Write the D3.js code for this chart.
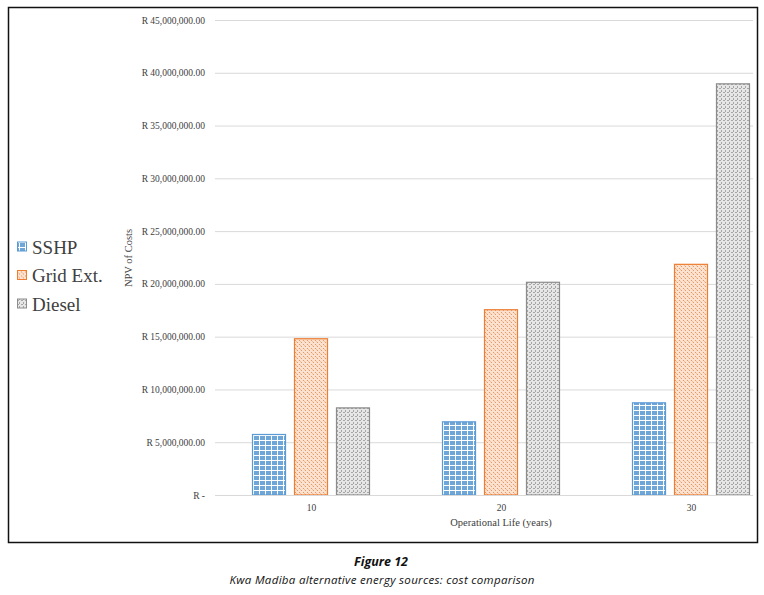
<!DOCTYPE html>
<html>
<head>
<meta charset="utf-8">
<script src="https://cdn.jsdelivr.net/npm/d3@7"></script>
<style>
  body { margin: 0; background: #fff; }
</style>
</head>
<body>
<svg id="chart" width="764" height="595"></svg>
<script>
// chart values
const years = ["10", "20", "30"]
const series = ["SSHP", "Grid Ext.", "Diesel"]
const sshp = [5780000, 6980000, 8780000]
const gridExt = [14850000, 17600000, 21900000]
const diesel = [8300000, 20200000, 39000000]
const yTicks = [0, 5e6, 10e6, 15e6, 20e6, 25e6, 30e6, 35e6, 40e6, 45e6]

const values = [sshp, gridExt, diesel]
const rows = years.map((y, i) => ({year: y, vals: series.map((s, j) => ({name: s, v: values[j][i]}))}))

const svg = d3.select("#chart")
const serif = "Liberation Serif, serif"
const colours = {"SSHP": "#5b9bd5", "Grid Ext.": "#ed7d31", "Diesel": "#8c8c8c"}
const pid = {"SSHP": "pSshp", "Grid Ext.": "pGrid", "Diesel": "pDiesel"}

// fill patterns
const defs = svg.append("defs")
const p1 = defs.append("pattern").attr("id", "pSshp").attr("patternUnits", "userSpaceOnUse")
  .attr("width", 6).attr("height", 5)
p1.append("rect").attr("width", 6).attr("height", 5).attr("fill", "#6fa6d8")
p1.append("rect").attr("x", 0).attr("y", 0).attr("width", 6).attr("height", 1).attr("fill", "#fff")
p1.append("rect").attr("x", 2).attr("y", 1).attr("width", 1).attr("height", 4).attr("fill", "#fff")

const p2 = defs.append("pattern").attr("id", "pGrid").attr("patternUnits", "userSpaceOnUse")
  .attr("width", 4).attr("height", 4)
p2.append("rect").attr("width", 4).attr("height", 4).attr("fill", "#fbe2d0")
p2.append("rect").attr("x", 0).attr("y", 0).attr("width", 1).attr("height", 1).attr("fill", "#ee9660")
p2.append("rect").attr("x", 2).attr("y", 2).attr("width", 1).attr("height", 1).attr("fill", "#ee9660")
p2.append("rect").attr("x", 1).attr("y", 1).attr("width", 1).attr("height", 1).attr("fill", "#f5bd98")

const p3 = defs.append("pattern").attr("id", "pDiesel").attr("patternUnits", "userSpaceOnUse")
  .attr("width", 4).attr("height", 4)
p3.append("rect").attr("width", 4).attr("height", 4).attr("fill", "#e6e6e6")
p3.append("rect").attr("x", 0).attr("y", 0).attr("width", 2).attr("height", 1).attr("fill", "#a6a6a6")
p3.append("rect").attr("x", 2).attr("y", 2).attr("width", 1).attr("height", 2).attr("fill", "#a6a6a6")

// frame
svg.append("rect").attr("x", 8.5).attr("y", 7.5).attr("width", 749).attr("height", 535)
  .attr("fill", "none").attr("stroke", "#111").attr("stroke-width", 1.5)

const y = d3.scaleLinear().domain([0, 45e6]).range([495, 20])
const x = d3.scalePoint().domain(years).range([311, 691])
const xs = d3.scaleBand().domain(series).range([-59, 59]).paddingInner(0.19)

const fmt = d => d === 0 ? "R -" : "R " + d3.format(",.2f")(d)

// y axis (labels + gridlines)
const gy = svg.append("g").attr("transform", "translate(215,0)")
  .call(d3.axisLeft(y).tickValues(yTicks).tickFormat(fmt).tickSize(0).tickPadding(10))
  .attr("font-family", serif).attr("font-size", 9.5)
gy.select(".domain").remove()
gy.selectAll(".tick text").attr("fill", "#404040").attr("dy", "0.32em")
gy.selectAll(".tick").append("line").attr("x1", 0).attr("x2", 538)
  .attr("stroke", "#d9d9d9").attr("stroke-width", 1)

// bars
const grp = svg.append("g").selectAll("g").data(rows).join("g")
  .attr("transform", d => `translate(${x(d.year)},0)`)
grp.selectAll("rect").data(d => d.vals).join("rect")
  .attr("x", d => xs(d.name) + 0.5)
  .attr("y", d => y(d.v) + 0.5)
  .attr("width", xs.bandwidth() - 1)
  .attr("height", d => y(0) - y(d.v) - 0.5)
  .attr("fill", d => `url(#${pid[d.name]})`)
  .attr("stroke", d => colours[d.name])
  .attr("stroke-width", 1.2)

// x axis
const gx = svg.append("g").attr("transform", "translate(0,495)")
  .call(d3.axisBottom(x).tickSize(0).tickPadding(9))
  .attr("font-family", serif).attr("font-size", 9.5)
gx.select(".domain").remove()
gx.selectAll(".tick text").attr("fill", "#404040")
svg.append("line").attr("x1", 215).attr("x2", 753).attr("y1", 495.5).attr("y2", 495.5)
  .attr("stroke", "#d9d9d9")

svg.append("text").attr("x", 501).attr("y", 526).attr("text-anchor", "middle")
  .attr("font-family", serif).attr("font-size", 10.5).attr("fill", "#404040")
  .text("Operational Life (years)")
svg.append("text").attr("transform", "translate(132,258) rotate(-90)").attr("text-anchor", "middle")
  .attr("font-family", serif).attr("font-size", 10.5).attr("fill", "#404040")
  .text("NPV of Costs")

// legend
const leg = svg.append("g").selectAll("g").data(series).join("g")
  .attr("transform", (d, i) => `translate(17,${247 + i * 28.5})`)
leg.append("rect").attr("x", 0.5).attr("y", -5).attr("width", 9).attr("height", 9)
  .attr("fill", d => `url(#${pid[d]})`).attr("stroke", d => colours[d])
leg.append("text").attr("x", 15).attr("y", 0).attr("dy", "0.35em")
  .attr("font-family", serif).attr("font-size", 19).attr("fill", "#404040")
  .text(d => d)

// caption
svg.append("text").attr("x", 381).attr("y", 566).attr("text-anchor", "middle")
  .attr("font-family", "Open Sans, sans-serif").attr("font-size", 12.5).attr("font-weight", "bold")
  .attr("font-style", "italic").attr("fill", "#111").text("Figure 12")
svg.append("text").attr("x", 382).attr("y", 584).attr("text-anchor", "middle")
  .attr("font-family", "Open Sans, sans-serif").attr("font-size", 11.5)
  .attr("font-style", "italic").attr("fill", "#111").attr("textLength", 305)
  .text("Kwa Madiba alternative energy sources: cost comparison")
</script>
</body>
</html>
